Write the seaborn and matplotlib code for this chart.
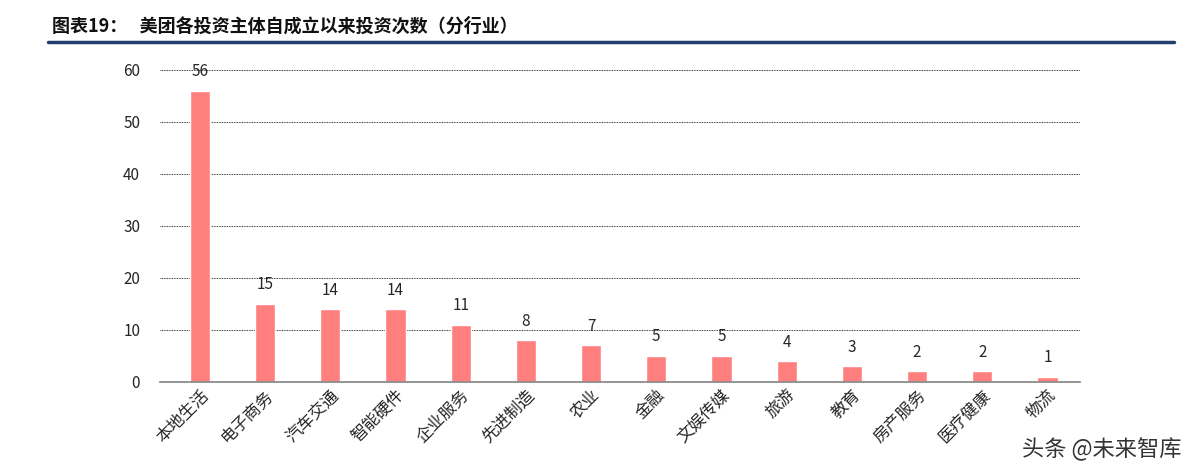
import matplotlib
matplotlib.use("Agg")
import matplotlib.pyplot as plt
import seaborn as sns
import pandas as pd

categories = ['本地生活', '电子商务', '汽车交通', '智能硬件', '企业服务', '先进制造', '农业',
              '金融', '文娱传媒', '旅游', '教育', '房产服务', '医疗健康', '物流']
counts = [56, 15, 14, 14, 11, 8, 7, 5, 5, 4, 3, 2, 2, 1]
yticks = [0, 10, 20, 30, 40, 50, 60]

sns.set_theme(style="white")
plt.rcParams['font.family'] = ['Noto Sans CJK SC', 'DejaVu Sans']

df = pd.DataFrame({'cat': categories, 'n': counts})
fig = plt.figure(figsize=(12, 4.75), dpi=100)
ax = fig.add_axes([0.133, 0.196, 0.767, 0.657])
sns.barplot(data=df, x='cat', y='n', color='#FF7F7F', saturation=1, width=0.31, ax=ax)

ax.set_ylim(0, 60)
ax.set_yticks(yticks)
ax.set_xlim(-0.62, 13.5)
for y in yticks[1:]:
    ax.axhline(y, color='black', lw=0.6, ls=(0, (1, 1)), zorder=0)
for i, v in enumerate(counts):
    ax.text(i, v + 2, str(v), ha='center', va='bottom', fontsize=11)
ax.set_xlabel('')
ax.set_ylabel('')
for s in ['top', 'right', 'left']:
    ax.spines[s].set_visible(False)
ax.spines['bottom'].set_color('#888888')
ax.tick_params(axis='y', labelsize=11, length=0, pad=14)
ax.tick_params(axis='x', length=0, labelsize=12)
ax.set_xticks(range(len(categories)))
ax.set_xticklabels(categories, rotation=45, ha='right', rotation_mode='anchor', family='Noto Sans CJK SC')

fig.text(0.043, 0.945, '图表19：   美团各投资主体自成立以来投资次数（分行业）', fontsize=13,
         fontweight='bold', va='center', color='#111111')
fig.add_artist(plt.Line2D([0.04, 0.978], [0.912, 0.912], color='#1F3E6B', lw=2.5))
fig.text(0.985, 0.03, '头条 @未来智库', fontsize=16, ha='right', va='bottom', color='#333333')

fig.savefig('out.png', dpi=100)
